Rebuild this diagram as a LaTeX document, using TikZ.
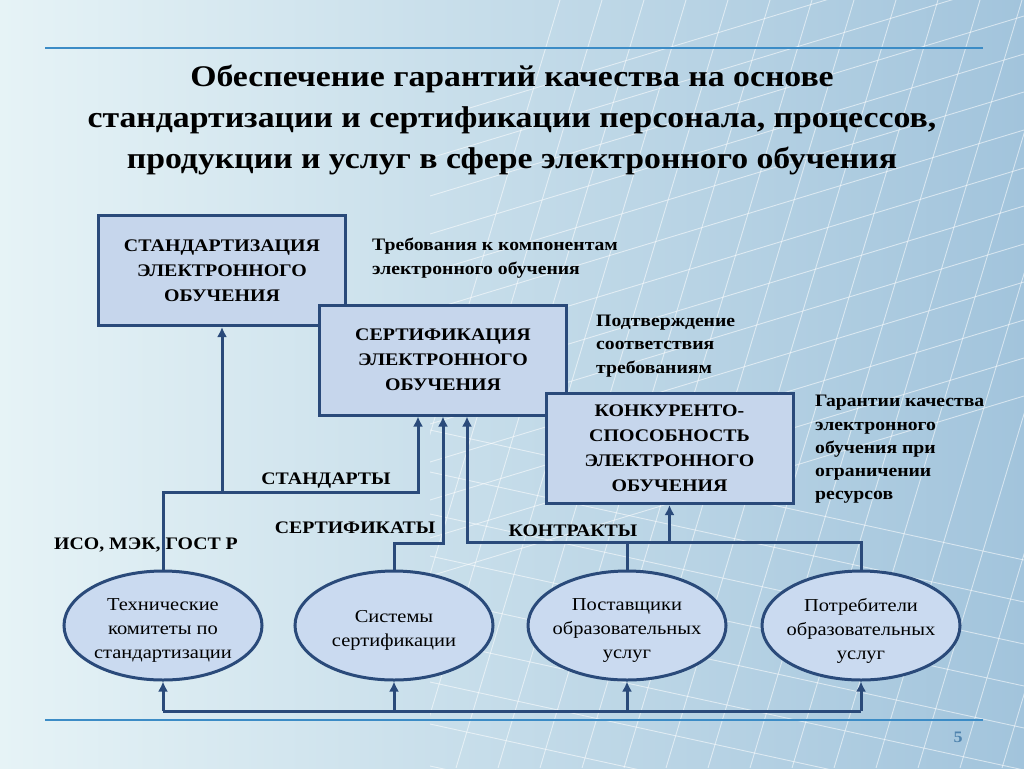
\documentclass[tikz,border=0pt]{standalone}
\usepackage{fontspec}
\setmainfont[FakeStretch=1.125]{Liberation Serif}
\usetikzlibrary{shapes.geometric,arrows.meta}
\definecolor{dk}{HTML}{2A4A7A}
\definecolor{bfill}{HTML}{C6D6EC}
\definecolor{efill}{HTML}{CADAF0}
\definecolor{rulec}{HTML}{3C8CC6}
\definecolor{bgl}{HTML}{E6F3F6}
\definecolor{bgr}{HTML}{A2C4DC}
\definecolor{pnum}{HTML}{4F83AE}
\begin{document}
\begin{tikzpicture}[x=1pt,y=-1pt,
  box/.style={draw=dk,line width=3pt,fill=bfill,minimum width=247pt,minimum height=110pt,align=center,inner sep=0pt,font=\bfseries\fontsize{17.7}{25}\selectfont},
  ell/.style={ellipse,draw=dk,line width=3pt,fill=efill,minimum width=198pt,minimum height=109pt,inner sep=0pt},
  etxt/.style={align=center,inner sep=0pt,font=\fontsize{18.2}{24}\selectfont},
  conn/.style={draw=dk,line width=3pt},
  arr/.style={conn,-{Latex[length=10pt,width=10pt]}},
  ann/.style={anchor=west,align=left,inner sep=0pt,font=\bfseries\fontsize{17.5}{23.3}\selectfont},
  lbl/.style={inner sep=0pt,font=\bfseries\fontsize{17.6}{20}\selectfont},
  rulel/.style={draw=rulec,line width=2.2pt},
  gridl/.style={draw=white,line width=0.9pt,opacity=0.55}
]
\useasboundingbox (0,0) rectangle (1024,768);
\shade[left color=bgl,right color=bgr] (0,0) rectangle (1024,768);
% background grid
\begin{scope}
\clip (430,0) rectangle (1024,768);
\foreach \i in {0,...,22} \draw[gridl] ({330+\i*42},768) -- ({560+\i*42},0);
\foreach \i in {0,...,12} \draw[gridl] (430,{120+\i*38}) -- (1024,{-60+\i*38});
\foreach \i in {0,...,10} \draw[gridl] (430,{430+\i*42}) -- (1024,{560+\i*42});
\end{scope}

% rules
\coordinate (rt1) at (45,48); \coordinate (rt2) at (983,48);
\coordinate (rb1) at (45,720); \coordinate (rb2) at (983,720);
\draw[rulel] (rt1) -- (rt2);
\draw[rulel] (rb1) -- (rb2);

% title
\node[align=center,inner sep=0pt,font=\bfseries\fontsize{30}{41}\selectfont] (title) at (512,120)
 {Обеспечение гарантий качества на основе\\стандартизации и сертификации персонала, процессов,\\продукции и услуг в сфере электронного обучения};

% boxes
\node[box] (b1) at (222,270.5) {СТАНДАРТИЗАЦИЯ\\ЭЛЕКТРОННОГО\\ОБУЧЕНИЯ};
\node[box] (b2) at (443,360) {СЕРТИФИКАЦИЯ\\ЭЛЕКТРОННОГО\\ОБУЧЕНИЯ};
\node[box] (b3) at (669.5,448.5) {КОНКУРЕНТО-\\СПОСОБНОСТЬ\\ЭЛЕКТРОННОГО\\ОБУЧЕНИЯ};

% annotations
\node[ann] (a1) at (372,258) {Требования к компонентам\\электронного обучения};
\node[ann] (a2) at (596,346) {Подтверждение\\соответствия\\требованиям};
\node[ann] (a3) at (815,449.5) {Гарантии качества\\электронного\\обучения при\\ограничении\\ресурсов};

% ellipses
\node[ell] (e1) at (163,625.5) {};
\node[ell] (e2) at (394,625.5) {};
\node[ell] (e3) at (627,625.5) {};
\node[ell] (e4) at (861,625.5) {};
\node[etxt] (t1) at (163,630.5) {Технические\\комитеты по\\стандартизации};
\node[etxt] (t2) at (394,630.5) {Системы\\сертификации};
\node[etxt] (t3) at (627,630.5) {Поставщики\\образовательных\\услуг};
\node[etxt] (t4) at (861,630.5) {Потребители\\образовательных\\услуг};

% connectors: standards
\coordinate (s1) at (163,492);
\coordinate (s2) at (418,492);
\coordinate (s3) at (222,492);
\draw[arr] (e1.north) -- (s1) -- (s2) -- (s2 |- b2.south);
\draw[arr] (s3) -- (b1.south);
% certificates
\coordinate (c1) at (443,543);
\coordinate (c2) at (394,543);
\draw[arr] (e2.north) -- (c2) -- (c1) -- (b2.south);
% contracts
\coordinate (k1) at (467,542);
\coordinate (k2) at (861,542);
\coordinate (k3) at (669.5,542);
\coordinate (k4) at (627,542);
\draw[arr] (e4.north) -- (k2) -- (k1) -- (k1 |- b2.south);
\draw[conn] (e3.north) -- (k4);
\draw[arr] (k3) -- (b3.south);
% bottom line
\coordinate (d1) at (163,711);
\coordinate (d4) at (861,711);
\draw[conn] (d1) -- (d4);
\draw[arr] (d1) -- (e1.south);
\draw[arr] (e2.south |- d1) -- (e2.south);
\draw[arr] (e3.south |- d1) -- (e3.south);
\draw[arr] (d4) -- (e4.south);

% labels
\node[lbl] (l1) at (326,481) {СТАНДАРТЫ};
\node[lbl] (l2) at (355,528) {СЕРТИФИКАТЫ};
\node[lbl] (l3) at (573,531) {КОНТРАКТЫ};
\node[lbl] (l4) at (146,545) {ИСО, МЭК, ГОСТ Р};

\node[inner sep=0pt,font=\bfseries\fontsize{16}{18}\selectfont,text=pnum] (pn) at (958,737) {5};
\end{tikzpicture}
\end{document}
